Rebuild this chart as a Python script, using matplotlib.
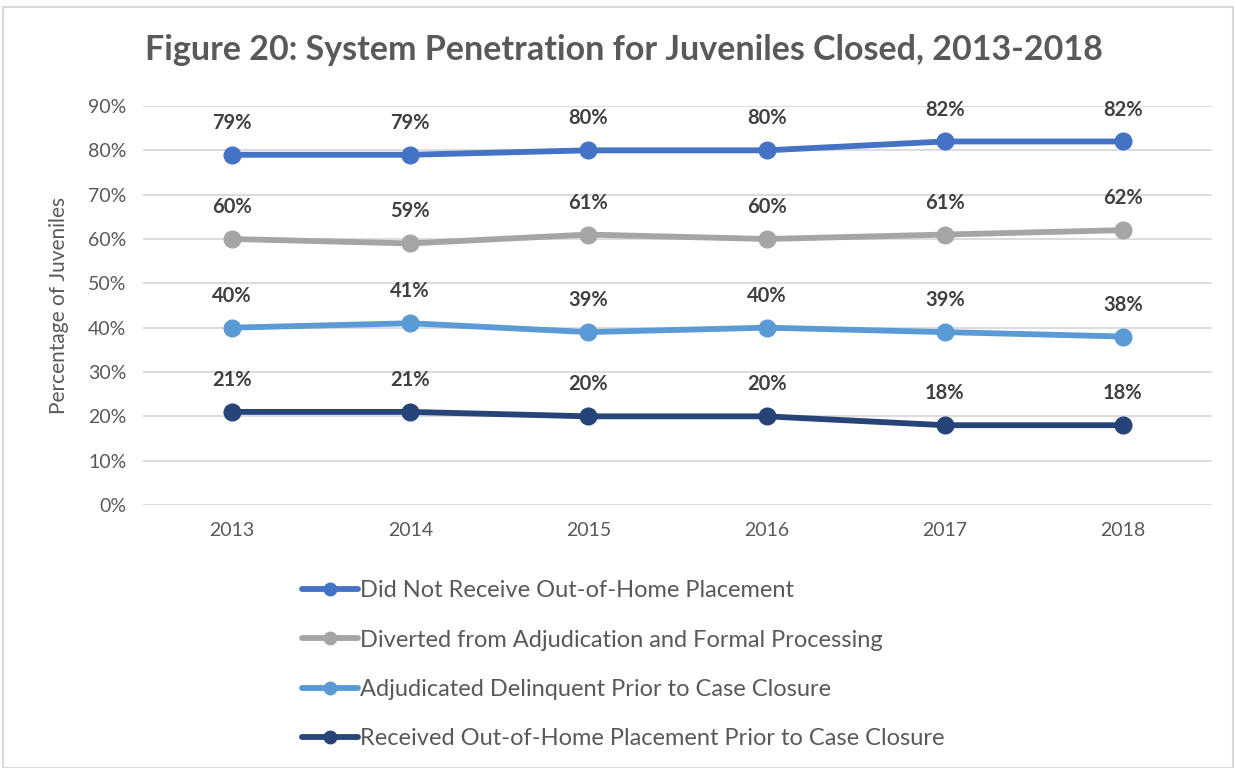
import matplotlib.pyplot as plt
from matplotlib.patches import Rectangle
from matplotlib.ticker import FuncFormatter

# Data: share of juveniles closed per year, by outcome
years = ["2013", "2014", "2015", "2016", "2017", "2018"]
no_placement = [79, 79, 80, 80, 82, 82]
diverted = [60, 59, 61, 60, 61, 62]
adjudicated = [40, 41, 39, 40, 39, 38]
placement = [21, 21, 20, 20, 18, 18]

series_names = [
    "Did Not Receive Out-of-Home Placement",
    "Diverted from Adjudication and Formal Processing",
    "Adjudicated Delinquent Prior to Case Closure",
    "Received Out-of-Home Placement Prior to Case Closure",
]
series_colors = ["#4472C4", "#A5A5A5", "#5B9BD5", "#264478"]

plt.rcParams['font.family'] = ['Lato', 'DejaVu Sans']

fig = plt.figure(figsize=(12.36, 7.68), dpi=100)
ax = fig.add_axes([143 / 1236, 1 - 505 / 768, (1212 - 143) / 1236, (505 - 106) / 768])

x = range(len(years))
all_series = [no_placement, diverted, adjudicated, placement]
handles = []
for vals, name, col in zip(all_series, series_names, series_colors):
    h, = ax.plot(x, vals, color=col, lw=4.2, marker='o', ms=12,
                 solid_capstyle='round', label=name, zorder=3)
    handles.append(h)
    for xi, v in zip(x, vals):
        ax.annotate(f"{v}%", (xi, v), xytext=(0, 23), textcoords='offset points',
                    ha='center', va='center', fontsize=14.5, fontweight='bold',
                    color='#404040')

ax.set_xlim(-0.5, len(years) - 0.5)
ax.set_ylim(0, 90)
ax.set_yticks(range(0, 91, 10))
ax.yaxis.set_major_formatter(FuncFormatter(lambda v, p: f"{v:.0f}%"))
ax.set_xticks(list(x))
ax.set_xticklabels(years)
ax.tick_params(length=0, labelsize=14, colors='#595959')
ax.tick_params(axis='x', pad=12)
ax.tick_params(axis='y', pad=12)
ax.grid(axis='y', color='#D9D9D9', lw=1.3)
ax.set_axisbelow(True)
for s in ax.spines.values():
    s.set_visible(False)

ax.set_ylabel("Percentage of Juveniles", fontsize=15, color='#595959', labelpad=14)

fig.text(0.5045, 1 - 50 / 768, "Figure 20: System Penetration for Juveniles Closed, 2013-2018",
         ha='center', va='center', fontsize=24.5, fontweight='bold', color='#595959')

leg = fig.legend(handles=handles, loc='upper left', bbox_to_anchor=(281 / 1236, 1 - 559 / 768),
                 frameon=False, fontsize=17, handlelength=2.35, handletextpad=0.08,
                 labelspacing=1.2, labelcolor='#595959', markerscale=0.75)

# light chart-area border
fig.patches.append(Rectangle((3 / 1236, 0), 1230 / 1236, 1 - 7 / 768, transform=fig.transFigure,
                             fill=False, edgecolor='#D9D9D9', lw=1.5))

fig.savefig("out.png", dpi=100)
